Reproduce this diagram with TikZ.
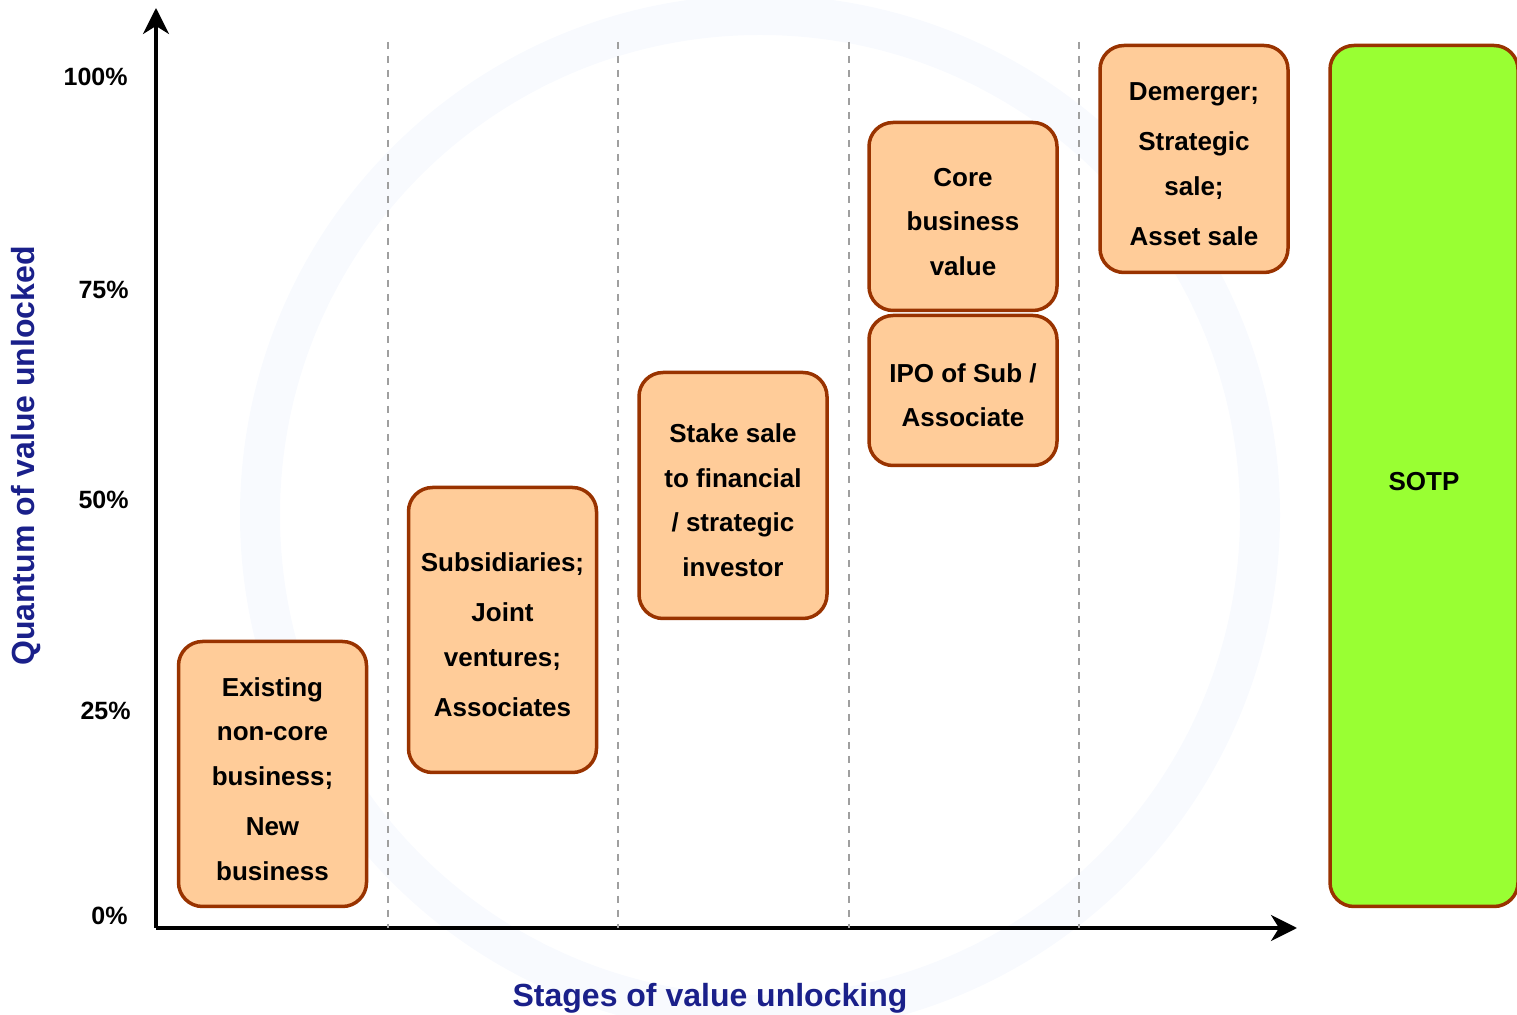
\documentclass[tikz,border=0pt]{standalone}
\usepackage{fontspec}
\setmainfont{Liberation Sans}
\usepackage{tikz}
\usetikzlibrary{positioning,arrows.meta,backgrounds}

\definecolor{peach}{RGB}{255,204,153}
\definecolor{rust}{RGB}{153,51,0}
\definecolor{lime}{RGB}{153,255,51}
\definecolor{navy}{RGB}{26,32,138}
\definecolor{faintring}{RGB}{248,250,254}
% taller first line, pushes the box text a little down
\newcommand\toprow{\rule{0pt}{14.3pt}}

\begin{document}
\begin{tikzpicture}[x=0.5pt,y=-0.5pt]
  \tikzstyle{stage}=[draw=rust,fill=peach,line width=1.75pt,rounded corners=12pt,
    minimum width=94pt,inner sep=0pt,align=center,
    font=\bfseries\fontsize{13}{22.25}\selectfont];
  \tikzstyle{tick}=[anchor=east,inner sep=0pt,font=\bfseries\fontsize{12.5}{14}\selectfont];
  \tikzstyle{axlabel}=[text=navy,inner sep=0pt,font=\bfseries\fontsize{16}{18}\selectfont];
  \tikzstyle{axis}=[line width=1.75pt,-{Stealth[length=13pt,width=13pt,inset=4pt]}];
  \tikzstyle{sep}=[draw=gray!75,line width=0.9pt,dash pattern=on 3.5pt off 3.5pt];
  \useasboundingbox (0,0) rectangle (1517,1015);
  % faint ring behind everything
  \draw [faintring,line width=20pt] (760,515) circle (250pt);
  % axes
  \coordinate (o) at (156,928);
  \coordinate (ytop) at (156,8);
  \coordinate (xend) at (1297,928);
  \draw [axis] (o) -- (ytop);
  \draw [axis] (o) -- (xend);
  % stage separators
  \foreach \x [count=\i] in {388,618,849,1079} {
    \coordinate (s\i) at (\x,42);
    \coordinate (t\i) at (\x,928);
    \draw [sep] (s\i) -- (t\i);
  }
  % percentages
  \node [tick] (p100) at (128,77) {100\%};
  \node [tick] (p75) at (129,290) {75\%};
  \node [tick] (p50) at (129,500) {50\%};
  \node [tick] (p25) at (131,711) {25\%};
  \node [tick] (p0) at (128,916) {0\%};
  \node [axlabel,rotate=90] (ylab) at (26,456) {Quantum of value unlocked};
  \node [axlabel] (xlab) at (710,998) {Stages of value unlocking};
  % stages
  \node [stage,minimum height=132.5pt] (ex) at (272.5,774)
    {\toprow Existing\\non-core\\business;\\[3pt]New\\business};
  \node [stage,minimum height=142.5pt] (sub) at (502.5,630)
    {\toprow Subsidiaries;\\[3pt]Joint\\ventures;\\[3pt]Associates};
  \node [stage,minimum height=123pt] (stake) at (733,495.5)
    {\toprow Stake sale\\to financial\\/ strategic\\investor};
  \node [stage,minimum height=94pt] (core) at (963,216.5)
    {\toprow Core\\business\\value};
  \node [stage,minimum height=75pt] (ipo) at (963,390.5)
    {\toprow IPO of Sub /\\Associate};
  \node [stage,minimum height=113.5pt] (dem) at (1194,159)
    {\toprow Demerger;\\[3pt]Strategic\\sale;\\[3pt]Asset sale};
  \node [stage,fill=lime,minimum height=430.5pt] (sotp) at (1424,476) {};
  \node [font=\bfseries\fontsize{13}{16}\selectfont] (sotpt) at (1424,482) {SOTP};
\end{tikzpicture}
\end{document}
